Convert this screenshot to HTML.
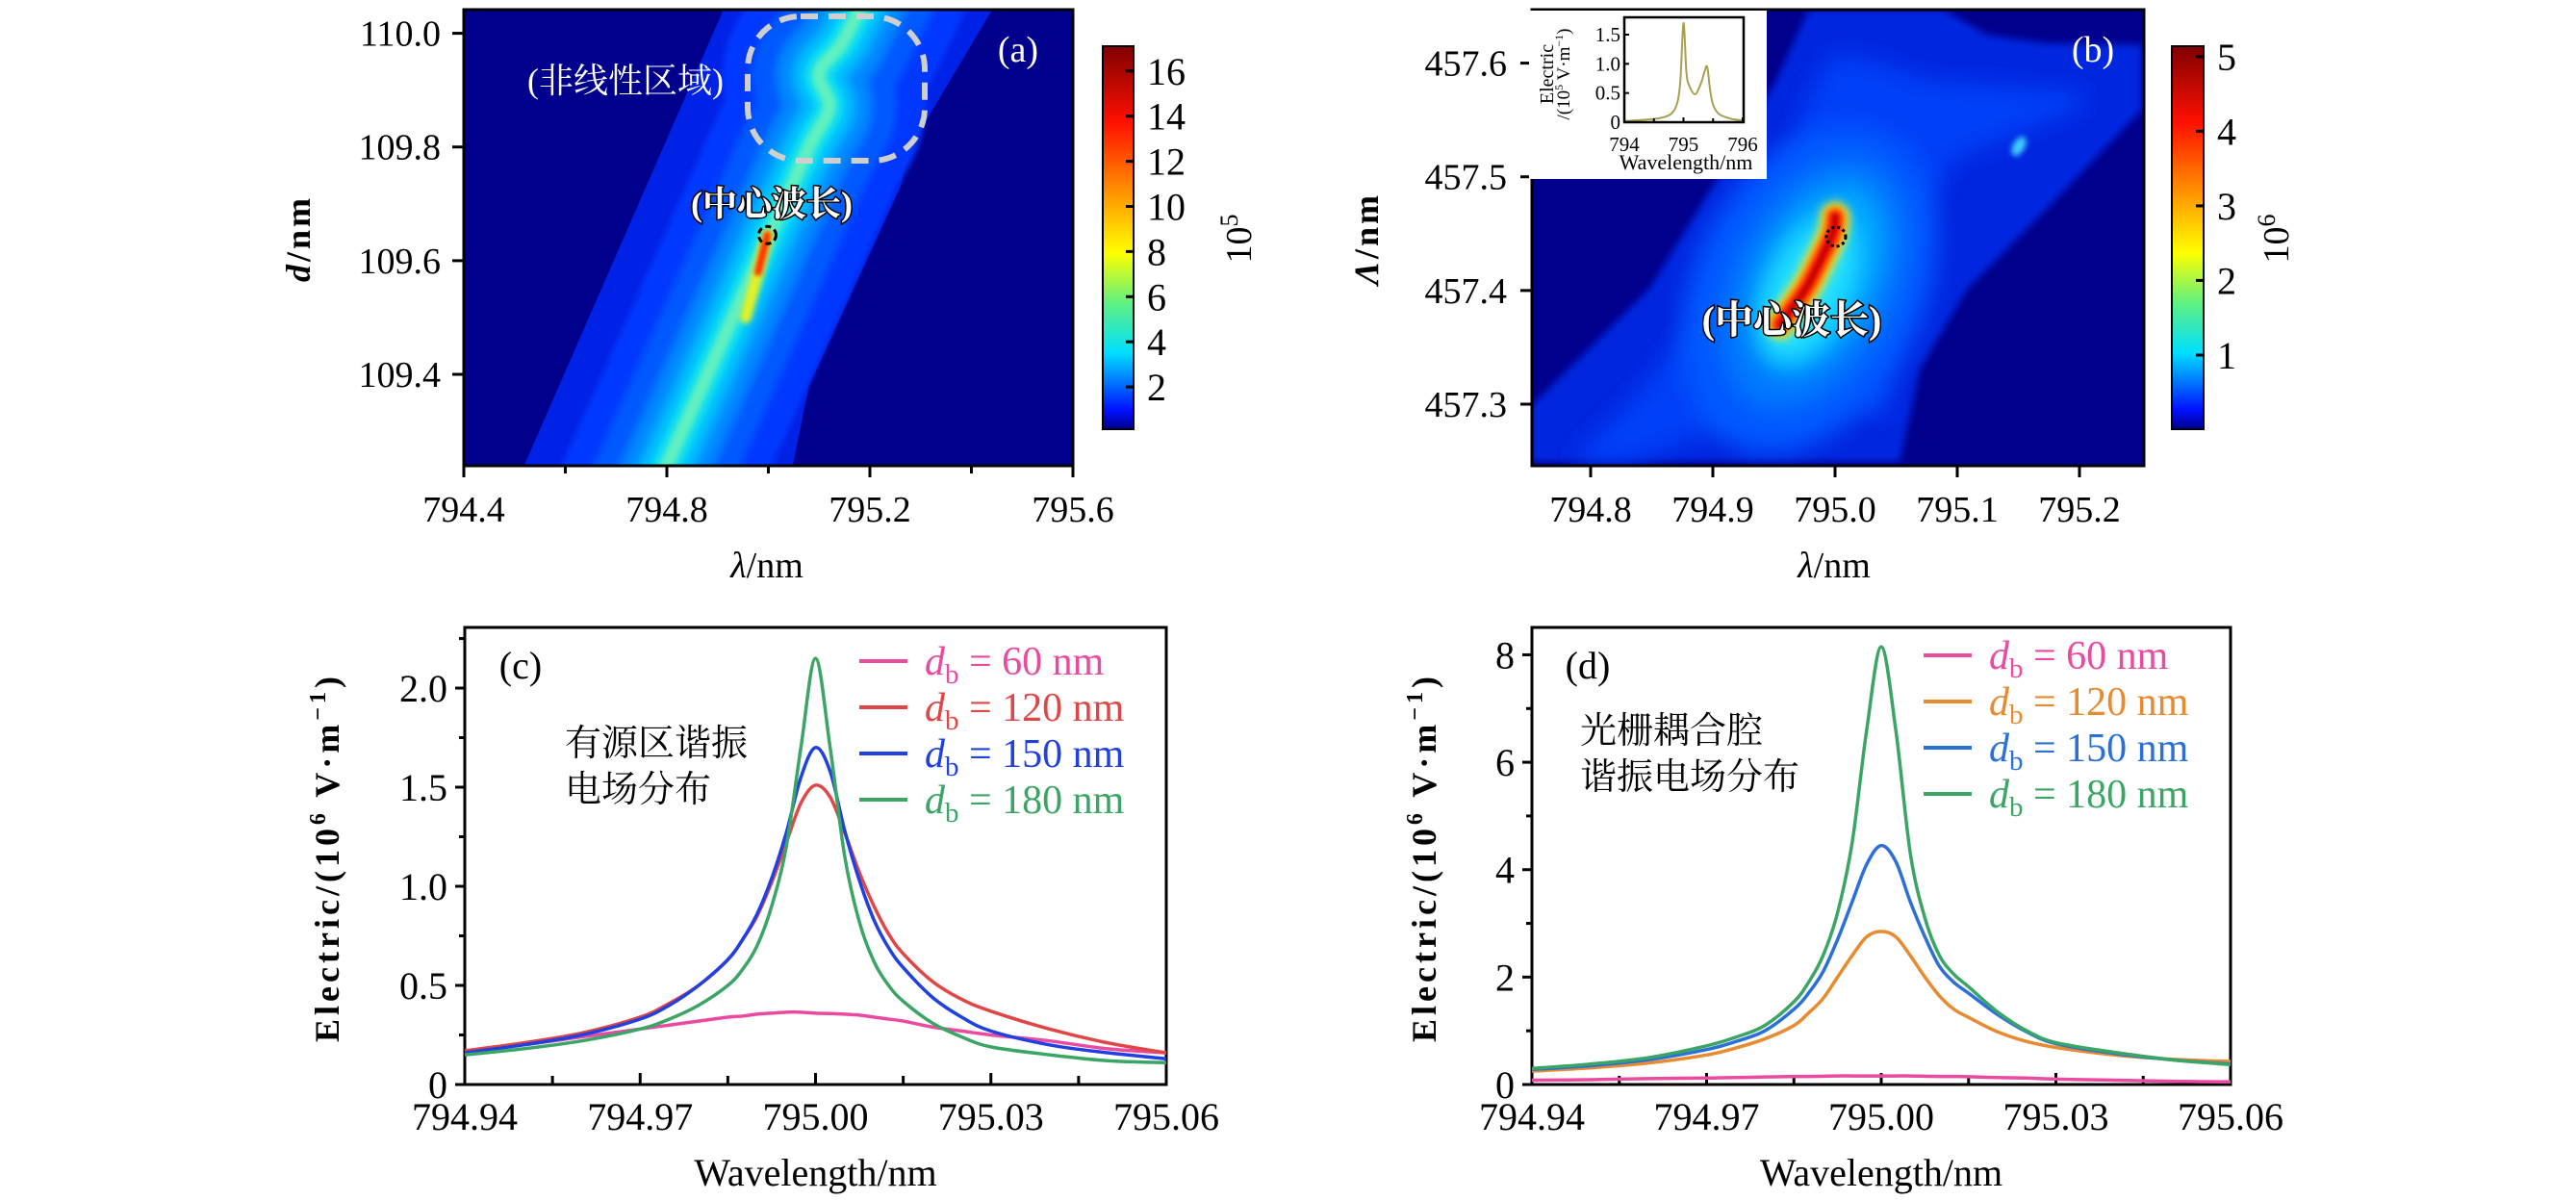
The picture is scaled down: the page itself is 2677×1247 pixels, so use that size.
<!DOCTYPE html>
<html><head><meta charset="utf-8">
<style>
html,body{margin:0;padding:0;background:#fff;}
svg{display:block;}
text{font-family:"Liberation Serif","Noto Serif CJK SC",serif;}
.cjk{font-family:"Liberation Serif","Noto Serif CJK SC",serif;}
</style></head>
<body>
<svg id="fig" xmlns="http://www.w3.org/2000/svg" width="2677" height="1247" viewBox="0 0 2677 1247">
<defs>
<linearGradient id="jet" x1="0" y1="1" x2="0" y2="0">
<stop offset="0" stop-color="#00008c"/><stop offset="0.05" stop-color="#0010ff"/><stop offset="0.2" stop-color="#00e0ff"/><stop offset="0.33" stop-color="#60f080"/><stop offset="0.46" stop-color="#ffff00"/><stop offset="0.6" stop-color="#ffa000"/><stop offset="0.8" stop-color="#ff1000"/><stop offset="1" stop-color="#800000"/>
</linearGradient>
<filter id="b2" filterUnits="userSpaceOnUse" x="0" y="0" width="2677" height="1247"><feGaussianBlur stdDeviation="2"/></filter>
<filter id="b3" filterUnits="userSpaceOnUse" x="0" y="0" width="2677" height="1247"><feGaussianBlur stdDeviation="3"/></filter>
<filter id="b4" filterUnits="userSpaceOnUse" x="0" y="0" width="2677" height="1247"><feGaussianBlur stdDeviation="4"/></filter>
<filter id="b5" filterUnits="userSpaceOnUse" x="0" y="0" width="2677" height="1247"><feGaussianBlur stdDeviation="5"/></filter>
<filter id="b6" filterUnits="userSpaceOnUse" x="0" y="0" width="2677" height="1247"><feGaussianBlur stdDeviation="6"/></filter>
<filter id="b12" filterUnits="userSpaceOnUse" x="0" y="0" width="2677" height="1247"><feGaussianBlur stdDeviation="12"/></filter>
<clipPath id="clipA"><rect x="482" y="10" width="633" height="474"/></clipPath>
<clipPath id="clipB"><rect x="1592" y="10" width="636" height="474"/></clipPath>
</defs>
<g id="panelA"></g>
<g id="panelB"></g>
<g id="panelC"></g>
<g id="panelD"></g>
</svg>
<script>
// ---------- data ----------
const aRidgeLambda = [794.76, 794.80, 794.90, 795.00, 795.08, 795.12, 795.10, 795.15, 795.22];
const aRidgeD      = [109.16, 109.24, 109.44, 109.64, 109.80, 109.87, 109.93, 109.99, 110.12];
const aBandLeftLambda  = [794.48, 794.94];
const aBandLeftD       = [109.16, 110.10];
const aBandRightLambda = [795.03, 795.08, 795.26, 795.28, 795.38, 795.48];
const aBandRightD      = [109.16, 109.38, 109.73, 109.80, 109.95, 110.10];
const aHotLambda = [794.955, 794.98, 794.998];
const aHotD      = [109.50, 109.58, 109.645];
const aXTicks = [794.4, 794.8, 795.2, 795.6];
const aXMinor = [794.6, 795.0, 795.4];
const aYTicks = [109.4, 109.6, 109.8, 110.0];
const aCbTicks = [2,4,6,8,10,12,14,16];
const bXTicks = [794.8, 794.9, 795.0, 795.1, 795.2];
const bYTicks = [457.3, 457.4, 457.5, 457.6];
const bCbTicks = [1,2,3,4,5];
const bStreakLambda = [794.955, 794.975, 794.985, 794.998, 795.0];
const bStreakL      = [457.37, 457.40, 457.42, 457.45, 457.465];
const insetX = [794.0,794.3,794.6,794.8,794.9,794.95,795.0,795.05,795.1,795.2,795.3,795.35,795.4,795.45,795.5,795.6,795.8,796.0];
const insetY = [0.02,0.04,0.07,0.15,0.35,0.75,1.70,0.85,0.62,0.48,0.68,0.85,0.95,0.55,0.30,0.14,0.06,0.03];
const insetXTicks = [794, 795, 796];
const insetYTicks = [0, 0.5, 1.0, 1.5];
const lineX = [-0.06,-0.05,-0.04,-0.03,-0.025,-0.02,-0.015,-0.0125,-0.01,-0.0075,-0.005,-0.0025,0,0.0025,0.005,0.0075,0.01,0.0125,0.015,0.02,0.025,0.03,0.04,0.05,0.06];
const cPink  = [0.17,0.20,0.24,0.28,0.30,0.32,0.34,0.345,0.355,0.36,0.365,0.365,0.36,0.358,0.355,0.35,0.34,0.33,0.32,0.29,0.27,0.25,0.22,0.18,0.16];
const cRed   = [0.17,0.21,0.26,0.34,0.41,0.50,0.63,0.73,0.85,1.02,1.22,1.42,1.51,1.45,1.27,1.07,0.90,0.76,0.66,0.52,0.43,0.37,0.28,0.21,0.16];
const cBlue  = [0.16,0.20,0.25,0.33,0.40,0.50,0.63,0.73,0.86,1.04,1.27,1.55,1.70,1.58,1.28,1.03,0.83,0.69,0.59,0.44,0.34,0.27,0.20,0.16,0.13];
const cGreen = [0.15,0.18,0.22,0.28,0.33,0.40,0.50,0.58,0.70,0.90,1.20,1.70,2.15,1.70,1.15,0.82,0.62,0.50,0.42,0.31,0.24,0.19,0.15,0.12,0.11];
const dPink   = [0.08,0.09,0.11,0.12,0.13,0.14,0.15,0.15,0.155,0.16,0.16,0.16,0.16,0.16,0.16,0.155,0.15,0.15,0.145,0.13,0.12,0.10,0.08,0.06,0.05];
const dOrange = [0.25,0.31,0.40,0.55,0.68,0.85,1.10,1.33,1.60,2.00,2.40,2.75,2.85,2.75,2.40,2.00,1.65,1.40,1.25,0.98,0.80,0.69,0.55,0.47,0.43];
const dBlue   = [0.28,0.35,0.46,0.65,0.80,1.00,1.40,1.70,2.10,2.70,3.40,4.10,4.45,4.15,3.40,2.75,2.20,1.90,1.70,1.30,0.98,0.76,0.58,0.46,0.38];
const dGreen  = [0.30,0.38,0.50,0.72,0.88,1.10,1.54,1.90,2.40,3.20,4.50,6.60,8.15,6.60,4.30,3.10,2.40,2.05,1.82,1.35,1.00,0.78,0.60,0.46,0.37];
const cdXTicks = [794.94, 794.97, 795.00, 795.03, 795.06];
const cdXLabels = ["794.94","794.97","795.00","795.03","795.06"];
const cYTicks = [0,0.5,1.0,1.5,2.0];
const cYLabels = ["0","0.5","1.0","1.5","2.0"];
const dYTicks = [0,2,4,6,8];
const dYLabels = ["0","2","4","6","8"];
const cLegend = ["60","120","150","180"];

// ---------- helpers ----------
const NS="http://www.w3.org/2000/svg";
function el(tag, attrs, parent){const e=document.createElementNS(NS,tag);for(const k in attrs)e.setAttribute(k,attrs[k]);if(parent)parent.appendChild(e);return e;}
function lin(d0,d1,r0,r1){return v=>r0+(v-d0)/(d1-d0)*(r1-r0);}
function smooth(pts){let d="M"+pts[0][0]+","+pts[0][1];for(let i=0;i<pts.length-1;i++){const p0=pts[Math.max(0,i-1)],p1=pts[i],p2=pts[i+1],p3=pts[Math.min(pts.length-1,i+2)];const c1=[p1[0]+(p2[0]-p0[0])/6,p1[1]+(p2[1]-p0[1])/6],c2=[p2[0]-(p3[0]-p1[0])/6,p2[1]-(p3[1]-p1[1])/6];d+=" C"+c1[0]+","+c1[1]+" "+c2[0]+","+c2[1]+" "+p2[0]+","+p2[1];}return d;}
function txt(parent,x,y,s,size,anchor,extra){const t=el("text",Object.assign({x:x,y:y,"font-size":size,"text-anchor":anchor||"middle"},extra||{}),parent);t.textContent=s;return t;}

// ---------- panel A ----------
(function(){
const g=document.getElementById("panelA");
const X=lin(794.4,795.6,482,1115), Y=lin(109.4,110.0,389,34.6);
const hm=el("g",{"clip-path":"url(#clipA)"},g);


el("rect",{x:482,y:10,width:633,height:474,fill:"#00008c"},hm);
const band=[];for(let i=0;i<aBandLeftLambda.length;i++)band.push([X(aBandLeftLambda[i]),Y(aBandLeftD[i])]);
for(let i=aBandRightLambda.length-1;i>=0;i--)band.push([X(aBandRightLambda[i]),Y(aBandRightD[i])]);
const bp=el("polygon",{points:band.map(p=>p.join(",")).join(" "),fill:"#0022e6"},hm);


const ridge=aRidgeLambda.map((l,i)=>[X(l),Y(aRidgeD[i])]);
const rd=smooth(ridge);
[[200,"#0038ff",3],[140,"#0058ff",4],[90,"#0088ff",5],[55,"#00bbff",5],[30,"#10e0f0",4],[14,"#60f0c0",3]].forEach(s=>{
 const p=el("path",{d:rd,fill:"none",stroke:s[1],"stroke-width":s[0],"stroke-linecap":"round","stroke-linejoin":"round",filter:"url(#b"+s[2]+")"},hm);
 
 
});
const hot=aHotLambda.map((l,i)=>[X(l),Y(aHotD[i])]);
const h1=el("path",{d:smooth(hot),fill:"none",stroke:"#e8f020","stroke-width":12,"stroke-linecap":"round",filter:"url(#b3)"},hm);


const h2=el("path",{d:smooth(hot.slice(1)),fill:"none",stroke:"#ff3000","stroke-width":8,"stroke-linecap":"round",filter:"url(#b2)"},hm);


const fr=el("rect",{x:482,y:10,width:633,height:474,fill:"none",stroke:"#000","stroke-width":3},g);


aXTicks.forEach(v=>{el("line",{x1:X(v),x2:X(v),y1:484,y2:496,stroke:"#000","stroke-width":3},g);
 const t=txt(g,X(v),542,v.toFixed(1),38);});
aXMinor.forEach(v=>el("line",{x1:X(v),x2:X(v),y1:484,y2:492,stroke:"#000","stroke-width":3},g));
aYTicks.forEach(v=>{el("line",{x1:470,x2:482,y1:Y(v),y2:Y(v),stroke:"#000","stroke-width":3},g);
 const t=txt(g,458,Y(v)+13,v.toFixed(1),38,"end");});
const xl=txt(g,797,600,"",38);xl.innerHTML='<tspan font-style="italic">λ</tspan>/nm';


const yl=txt(g,0,0,"",36,"middle",{transform:"translate(322,248) rotate(-90)","font-weight":"bold","letter-spacing":"3"});yl.innerHTML='<tspan font-style="italic">d</tspan>/nm';


const dash=el("rect",{x:777,y:17,width:184,height:150,rx:55,fill:"none",stroke:"#cfcfcf","stroke-width":6,"stroke-dasharray":"18 11"},g);


const nl=txt(g,650,96,"(非线性区域)",36,"middle",{fill:"#fff",class:"cjk"});


const cw=txt(g,802,224,"(中心波长)",36,"middle",{fill:"#fff",stroke:"#000","stroke-width":3,"paint-order":"stroke","font-weight":"bold",class:"cjk"});


const ci=el("circle",{cx:X(aHotLambda[2]),cy:Y(aHotD[2]),r:9,fill:"none",stroke:"#000","stroke-width":3,"stroke-dasharray":"6 4"},g);


const pl=txt(g,1058,64,"(a)",38,"middle",{fill:"#fff"});


const CB=lin(0,17.1,449,48);
const cb=el("rect",{x:1146,y:48,width:32,height:398,fill:"url(#jet)",stroke:"#000","stroke-width":2},g);


aCbTicks.forEach(v=>{el("line",{x1:1170,x2:1178,y1:CB(v),y2:CB(v),stroke:"#000","stroke-width":3},g);
 const t=txt(g,1192,CB(v)+14,String(v),40,"start");});
const cu=txt(g,0,0,"",38,"middle",{transform:"translate(1300,248) rotate(-90)"});cu.innerHTML='10<tspan font-size="26" dy="-14">5</tspan>';


})();

// ---------- panel B ----------
(function(){
const g=document.getElementById("panelB");
const X=lin(794.8,795.2,1653,2161), Y=lin(457.3,457.6,420,65.6);
const hm=el("g",{"clip-path":"url(#clipB)"},g);


el("rect",{x:1592,y:10,width:636,height:474,fill:"#00008c"},hm);
const P=(zx,zy)=>[1590+zx/2.42,zy/3];
const outer=[[0,1440],[0,1270],[300,900],[470,560],[620,250],[700,30],[1040,30],[1150,110],[1300,135],[1540,140],[1540,340],[1300,650],[1100,900],[980,1150],[930,1440]].map(p=>P(p[0],p[1]));
const o=el("polygon",{points:outer.map(p=>p.join(",")).join(" "),fill:"#0026e0",filter:"url(#b4)"},hm);


const inner=[[100,1440],[240,1270],[420,1000],[600,720],[700,300],[760,170],[860,190],[1000,250],[1390,290],[1390,330],[1060,500],[940,800],[900,1100],[900,1300],[700,1220],[450,1350],[250,1440]].map(p=>P(p[0],p[1]));
const ii=el("polygon",{points:inner.map(p=>p.join(",")).join(" "),fill:"#0040f8",filter:"url(#b12)"},hm);


[[1880,300,120,180,"#0058ff"],[1885,295,85,140,"#0078ff"],[1888,290,60,105,"#00a8ff"],[1880,300,42,80,"#20e0ff"]].forEach(e=>{
 const c=el("ellipse",{cx:e[0],cy:e[1],rx:e[2],ry:e[3],fill:e[4],transform:"rotate(25 "+e[0]+" "+e[1]+")",filter:"url(#b12)"},hm);
 
 
});
const st=bStreakLambda.map((l,i)=>[X(l),Y(bStreakL[i])]);
[[30,"#f0f020",5],[22,"#ff8000",4],[14,"#ff2000",3],[6,"#c00000",2]].forEach(s=>{
 const p=el("path",{d:smooth(st),fill:"none",stroke:s[1],"stroke-width":s[0],"stroke-linecap":"round",filter:"url(#b"+s[2]+")"},hm);
 
 
});
const dot=el("ellipse",{cx:2098,cy:152,rx:6,ry:11,fill:"#40d0ff",transform:"rotate(30 2098 152)",filter:"url(#b3)"},hm);


const fr=el("rect",{x:1592,y:10,width:636,height:474,fill:"none",stroke:"#000","stroke-width":3},g);


bXTicks.forEach(v=>{el("line",{x1:X(v),x2:X(v),y1:484,y2:496,stroke:"#000","stroke-width":3},g);
 const t=txt(g,X(v),542,v.toFixed(1),38);});
bYTicks.forEach(v=>{el("line",{x1:1580,x2:1592,y1:Y(v),y2:Y(v),stroke:"#000","stroke-width":3},g);
 const t=txt(g,1566,Y(v)+13,v.toFixed(1),38,"end");});
const xl=txt(g,1906,600,"",38);xl.innerHTML='<tspan font-style="italic">λ</tspan>/nm';


const yl=txt(g,0,0,"",36,"middle",{transform:"translate(1432,248) rotate(-90)","font-weight":"bold","letter-spacing":"3"});yl.innerHTML='<tspan font-style="italic">Λ</tspan>/nm';


const cw=txt(g,1862,346,"(中心波长)",40,"middle",{fill:"#fff",stroke:"#000","stroke-width":3,"paint-order":"stroke","font-weight":"bold",class:"cjk"});


const ci=el("circle",{cx:1908,cy:246,r:10,fill:"none",stroke:"#000","stroke-width":3,"stroke-dasharray":"3 3"},g);


const pl=txt(g,2175,64,"(b)",38,"middle",{fill:"#fff"});


const ib=el("rect",{x:1589,y:11,width:247,height:175,fill:"#fff"},g);


const IX=lin(794,796,1688,1811), IY=lin(0,1.5,127,36);
const ip=el("path",{d:smooth(insetX.map((x,i)=>[IX(x),IY(insetY[i])])),fill:"none",stroke:"#a8a050","stroke-width":2},g);


el("rect",{x:1688,y:18,width:124,height:109,fill:"none",stroke:"#000","stroke-width":2.5},g);
insetXTicks.forEach(v=>{el("line",{x1:IX(v),x2:IX(v),y1:127,y2:122,stroke:"#000","stroke-width":2},g);
 const t=txt(g,IX(v),157,String(v),21);});
[794.5,795.5].forEach(v=>el("line",{x1:IX(v),x2:IX(v),y1:127,y2:123,stroke:"#000","stroke-width":2},g));
insetYTicks.forEach(v=>{el("line",{x1:1688,x2:1693,y1:IY(v),y2:IY(v),stroke:"#000","stroke-width":2},g);
 const t=txt(g,1684,IY(v)+7,v===0?"0":v.toFixed(1),21,"end");});
const ixl=txt(g,1752,176,"Wavelength/nm",22);


const iyl=txt(g,0,0,"Electric",20,"middle",{transform:"translate(1614,77) rotate(-90)"});


const iyl2=txt(g,0,0,"",19,"middle",{transform:"translate(1631,77) rotate(-90)"});iyl2.innerHTML='/(10<tspan font-size="12" dy="-7">5</tspan><tspan dy="7"> V·m</tspan><tspan font-size="12" dy="-7">−1</tspan><tspan dy="7">)</tspan>';


const CB=lin(0,5.14,446.5,48);
const cb=el("rect",{x:2257,y:48,width:33,height:398,fill:"url(#jet)",stroke:"#000","stroke-width":2},g);


bCbTicks.forEach(v=>{el("line",{x1:2282,x2:2290,y1:CB(v),y2:CB(v),stroke:"#000","stroke-width":3},g);
 const t=txt(g,2304,CB(v)+14,String(v),40,"start");});
const cu=txt(g,0,0,"",38,"middle",{transform:"translate(2378,248) rotate(-90)"});cu.innerHTML='10<tspan font-size="26" dy="-14">6</tspan>';


})();

// ---------- line panels ----------
function linePanel(id,x0,x1,yMax,yTicks,yLabels,series,colors,tag,lx,ly,cjk1,cjk2,cjkX,cjkY,tagX,ylabX,minorY){
const g=document.getElementById(id);
const X=lin(794.94,795.06,x0,x1), Y=lin(0,yMax,1127,652);
el("rect",{x:x0,y:652,width:x1-x0,height:475,fill:"none",stroke:"#000","stroke-width":3},g);
cdXTicks.forEach((v,i)=>{el("line",{x1:X(v),x2:X(v),y1:1127,y2:1115,stroke:"#000","stroke-width":3},g);
 const t=txt(g,X(v),1174,cdXLabels[i],40);});
for(let k=0;k<4;k++){const v=794.955+0.03*k;el("line",{x1:X(v),x2:X(v),y1:1127,y2:1118,stroke:"#000","stroke-width":3},g);}
yTicks.forEach((v,i)=>{el("line",{x1:x0-10,x2:x0,y1:Y(v),y2:Y(v),stroke:"#000","stroke-width":3},g);
 const t=txt(g,x0-18,Y(v)+14,yLabels[i],40,"end");});
minorY.forEach(v=>el("line",{x1:x0-6,x2:x0,y1:Y(v),y2:Y(v),stroke:"#000","stroke-width":3},g));
series.forEach((s,si)=>{
 const p=el("path",{d:smooth(lineX.map((o,i)=>[X(795+o),Y(s[i])])),fill:"none",stroke:colors[si],"stroke-width":3.5},g);
 
 
 const ly2=ly+si*48;
 const ll=el("line",{x1:lx,x2:lx+50,y1:ly2,y2:ly2,stroke:colors[si],"stroke-width":4},g);
 
 
 const lt=txt(g,lx+68,ly2+14,"",42,"start",{fill:colors[si]});
 lt.innerHTML='<tspan font-style="italic">d</tspan><tspan font-size="29" dy="9">b</tspan><tspan dy="-9"> = '+cLegend[si]+' nm</tspan>';
 
 
});
const pl=txt(g,tagX,705,tag,40);


const c1=txt(g,cjkX,cjkY,cjk1,38,"start",{class:"cjk"});


const c2=txt(g,cjkX,cjkY+48,cjk2,38,"start",{class:"cjk"});


const xl=txt(g,(x0+x1)/2,1232,"Wavelength/nm",40);


const yl=txt(g,0,0,"",36,"middle",{transform:"translate("+ylabX+",891) rotate(-90)","font-weight":"bold","letter-spacing":"4"});
yl.innerHTML='Electric/(10<tspan font-size="24" dy="-14">6</tspan><tspan dy="14"> V·m</tspan><tspan font-size="24" dy="-14">−1</tspan><tspan dy="14">)</tspan>';


}
linePanel("panelC",483,1212,2.306,cYTicks,cYLabels,[cPink,cRed,cBlue,cGreen],["#ea4aa0","#e04646","#2040e0","#3aa564"],"(c)",893,687,"有源区谐振","电场分布",587,785,541,352,[0.25,0.75,1.25,1.75,2.25]);
linePanel("panelD",1592,2318,8.51,dYTicks,dYLabels,[dPink,dOrange,dBlue,dGreen],["#ea4aa0","#e88a30","#2a70d8","#3aa564"],"(d)",1999,681,"光栅耦合腔","谐振电场分布",1642,772,1650,1492,[1,3,5,7]);
</script>
</body></html>
